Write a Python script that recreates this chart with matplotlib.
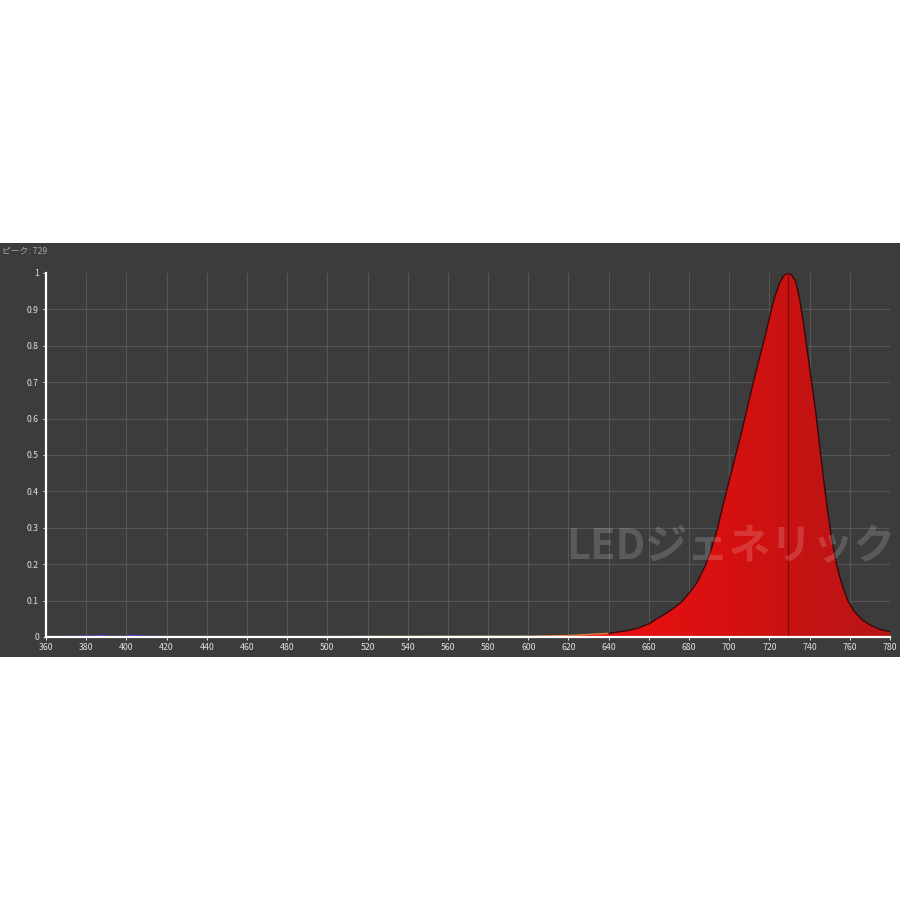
import numpy as np
import matplotlib
matplotlib.use("Agg")
import matplotlib.pyplot as plt
from matplotlib.patches import Rectangle
from matplotlib.colors import LinearSegmentedColormap
from matplotlib.collections import LineCollection

# ---- data ----
wavelength = [360, 380, 390, 400, 410, 420, 500, 600, 620, 640, 650, 655,
              660, 664, 668, 672, 676, 680, 684, 688, 691, 694, 697,
              700, 703, 706, 709, 712, 715, 718, 721, 723, 725, 727,
              729, 731, 733, 735, 737, 739, 741, 743, 745, 747, 749,
              751, 753, 755, 757, 759, 762, 766, 770, 775, 780]
intensity = [0.0, 0.002, 0.004, 0.004, 0.002, 0.001, 0.001, 0.002, 0.004, 0.010, 0.018, 0.025,
             0.036, 0.050, 0.063, 0.078, 0.095, 0.12, 0.15, 0.195, 0.24, 0.295, 0.365,
             0.43, 0.495, 0.56, 0.63, 0.70, 0.765, 0.83, 0.90, 0.94, 0.972, 0.992,
             1.0, 0.995, 0.978, 0.93, 0.86, 0.78, 0.70, 0.62, 0.525, 0.43, 0.345,
             0.27, 0.21, 0.165, 0.13, 0.10, 0.072, 0.048, 0.033, 0.021, 0.015]
peak_nm = 729
x_ticks = list(range(360, 781, 20))
y_ticks = [0, 0.1, 0.2, 0.3, 0.4, 0.5, 0.6, 0.7, 0.8, 0.9, 1]
title_text = "ピーク: 729"
watermark = "LEDジェネリック"

plt.rcParams['font.family'] = ['Noto Sans CJK JP', 'DejaVu Sans']

fig = plt.figure(figsize=(9, 9), dpi=100)
fig.patch.set_facecolor("white")
# dark panel
panel = Rectangle((0, (900 - 657) / 900), 1, (657 - 243) / 900,
                  transform=fig.transFigure, facecolor="#3c3c3c",
                  edgecolor="none", zorder=-10)
fig.add_artist(panel)

ax = fig.add_axes([46 / 900, (900 - 637) / 900, (890 - 46) / 900, (637 - 273) / 900], zorder=1)
ax.set_facecolor("none")

# grid
for xv in x_ticks[1:-1]:
    ax.axvline(xv, color="#565656", lw=0.8, zorder=1)
for yv in y_ticks[1:-1]:
    ax.axhline(yv, color="#565656", lw=0.8, zorder=1)

x = np.array(wavelength, dtype=float)
y = np.array(intensity, dtype=float)

# gradient filled spectrum
poly = ax.fill_between(x, 0, y, facecolor="none", edgecolor="none", zorder=2)
cmap = LinearSegmentedColormap.from_list("r", ["#ec1414", "#e41111", "#d61010", "#c41313", "#b81616"])
grad = np.linspace(0, 1, 256).reshape(1, -1)
im = ax.imshow(grad, extent=[620, 780, 0, 1], aspect="auto", cmap=cmap, zorder=2,
               interpolation="bilinear")
im.set_clip_path(poly.get_paths()[0], transform=ax.transData)
ax.set_xlim(360, 780)
ax.set_ylim(0, 1)

# outline: coloured by wavelength near the baseline, dark over the red peak
def wl_color(w):
    if w < 420:
        return "#5a2ad8"
    if w < 480:
        return "#3050e0"
    if w < 540:
        return "#40c0a0"
    if w < 590:
        return "#c8d040"
    if w < 640:
        return "#e08040"
    return "#3a0808"

pts = np.column_stack([x, y])
segs = np.stack([pts[:-1], pts[1:]], axis=1)
cols = [wl_color(0.5 * (a + b)) for a, b in zip(x[:-1], x[1:])]
ax.add_collection(LineCollection(segs, colors=cols, linewidths=1.0, zorder=3))
ax.plot([peak_nm, peak_nm], [0, 1], color="#7a0a0a", lw=0.9, zorder=3)

# axes styling
for s in ["top", "right"]:
    ax.spines[s].set_visible(False)
for s in ["left", "bottom"]:
    ax.spines[s].set_color("white")
    ax.spines[s].set_linewidth(1.6)
    ax.spines[s].set_zorder(5)
ax.set_xticks(x_ticks)
ax.set_xticklabels([str(v) for v in x_ticks])
ax.set_yticks(y_ticks)
ax.set_yticklabels([("%g" % v) for v in y_ticks])
ax.tick_params(axis="both", colors="white", labelsize=6.3, length=2, width=0.6, labelcolor="#e0e0e0")
ax.tick_params(axis="x", pad=2)
ax.tick_params(axis="y", pad=3)

# title and watermark
fig.text(2 / 900, (900 - 251) / 900, title_text, color="#a8a8a8", fontsize=6.3, va="center", ha="left")
fig.text(895 / 900, (900 - 547) / 900, watermark, color="white", alpha=0.16, fontsize=30,
         fontweight="bold", ha="right", va="center", zorder=10)

fig.savefig("out.png", dpi=100, facecolor="white")
